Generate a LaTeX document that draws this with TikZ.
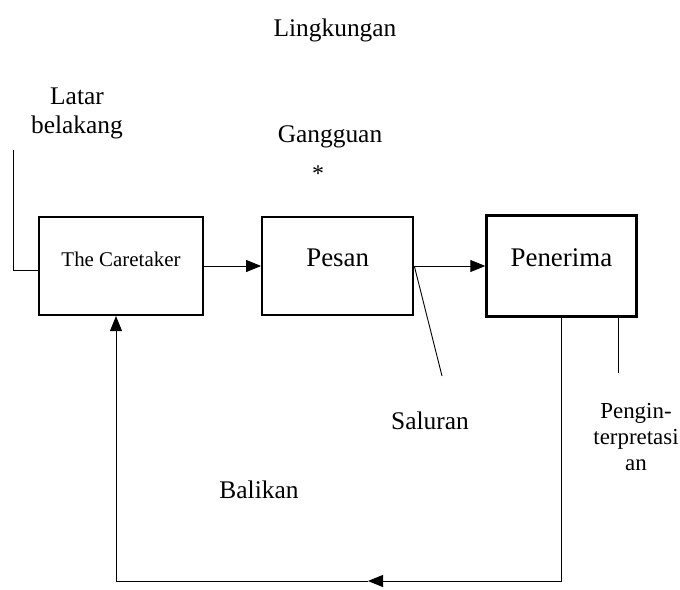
\documentclass[tikz,border=0pt]{standalone}
\usepackage{fontspec}
\setmainfont{Liberation Serif}
\usetikzlibrary{arrows.meta, positioning}

\begin{document}
\begin{tikzpicture}[x=1bp, y=-1bp, align=center,
    box/.style={draw, line width=2.2bp, inner sep=0pt, text height=18bp, text depth=18bp,
                font=\fontsize{27}{30}\selectfont},
    lbl/.style={font=\fontsize{25.5}{29}\selectfont, inner sep=0pt},
    arr/.style={-{Triangle[length=15bp, width=12bp]}, line width=0.9bp}]
  \useasboundingbox (0,0) rectangle (680,590);

  \node (lingk) [lbl] at (335,30) {Lingkungan};
  \node (latar) [lbl] at (77,113) {Latar\\belakang};
  \node (gangguan) [lbl] at (330,137) {Gangguan};
  \node (noise) [font=\fontsize{24}{24}\selectfont, inner sep=0pt] at (318,174) {*};

  \node (caretaker) [box, minimum width=164bp, minimum height=98bp,
                     font=\fontsize{21}{24}\selectfont] at (121,266) {The Caretaker};
  \node (pesan) [box, right=57bp of caretaker, minimum width=151bp, minimum height=98bp] {Pesan};
  \node (penerima) [box, right=71bp of pesan, minimum width=150bp, minimum height=101bp] {Penerima};

  \node (saluran) [lbl] at (430,421) {Saluran};
  \node (interp) [lbl, font=\fontsize{23}{26.5}\selectfont] at (636,437) {Pengin-\\terpretasi\\an};
  \node (balikan) [lbl] at (259,490) {Balikan};

  \coordinate (lb) at (13,150);
  \coordinate (ch) at (442,376);
  \coordinate (fbR) at (562,581);
  \coordinate (fbM) at (368,581);
  \coordinate (fbL) at (116,581);

  \draw[line width=0.9bp] (lb) |- ([yshift=-4]caretaker.west);
  \draw[arr] (caretaker) -- (pesan);
  \draw[arr] (pesan) -- (penerima);
  \draw[line width=0.9bp] (pesan.east) -- (ch);
  \draw[line width=0.9bp] ([xshift=57]penerima.south) -- ++(0,55);

  % balikan
  \draw[arr] (penerima.south) -- (penerima.south |- fbR) -- (fbM);
  \draw[arr] (fbM) -- (fbL) -- (fbL |- caretaker.south);
\end{tikzpicture}
\end{document}
